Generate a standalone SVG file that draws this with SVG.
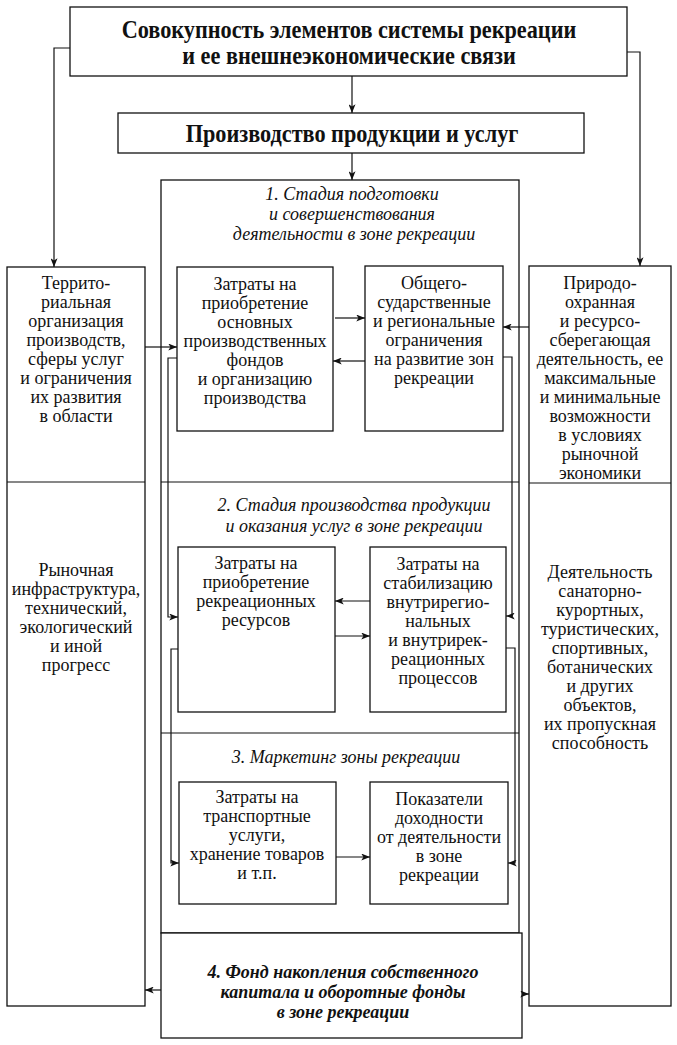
<svg xmlns="http://www.w3.org/2000/svg" width="677" height="1045" viewBox="0 0 677 1045">
<defs>
<style>
.box{fill:#fff;stroke:#111;stroke-width:1.3}
.ln{fill:none;stroke:#111;stroke-width:1.2}
.t{font-family:"Liberation Serif","Times New Roman",serif;font-size:18px;fill:#111;text-anchor:middle}
.h{font-family:"Liberation Serif","Times New Roman",serif;font-size:25px;font-weight:bold;fill:#111;text-anchor:middle}
.i{font-family:"Liberation Serif","Times New Roman",serif;font-size:18px;font-style:italic;fill:#111;text-anchor:middle}
.bi{font-family:"Liberation Serif","Times New Roman",serif;font-size:18px;font-style:italic;font-weight:bold;fill:#111;text-anchor:middle}
</style>
<marker id="ah" viewBox="0 0 10 8" refX="10" refY="4" markerWidth="9" markerHeight="7" markerUnits="userSpaceOnUse" orient="auto">
<path d="M0,0 L10,4 L0,8 L2.5,4 Z" fill="#111"/>
</marker>
</defs>
<rect width="677" height="1045" fill="#fff"/>

<g id="top">
<rect class="box" x="70" y="7" width="557" height="69"/>
<text class="h" transform="translate(349,38) scale(0.89,1)">Совокупность элементов системы рекреации</text>
<text class="h" transform="translate(349,64) scale(0.89,1)">и ее внешнеэкономические связи</text>
</g>

<g id="production">
<rect class="box" x="118" y="113" width="466" height="40"/>
<text class="h" transform="translate(352,142) scale(0.89,1)">Производство продукции и услуг</text>
</g>

<g id="stages">
<rect class="box" x="161" y="180" width="358" height="753"/>
<line class="ln" x1="161" y1="482" x2="519" y2="482"/>
<line class="ln" x1="161" y1="733" x2="519" y2="733"/>
</g>

<g id="stage1">
<text class="i" x="352" y="200">1. Стадия подготовки</text>
<text class="i" x="352" y="220">и совершенствования</text>
<text class="i" x="354" y="240">деятельности в зоне рекреации</text>
</g>

<g id="s1a">
<rect class="box" x="177" y="267" width="156" height="164"/>
<text class="t" x="255" y="290">Затраты на</text>
<text class="t" x="255" y="309">приобретение</text>
<text class="t" x="255" y="328">основных</text>
<text class="t" x="255" y="347">производственных</text>
<text class="t" x="255" y="366">фондов</text>
<text class="t" x="255" y="385">и организацию</text>
<text class="t" x="255" y="404">производства</text>
</g>

<g id="s1b">
<rect class="box" x="365" y="266" width="138" height="165"/>
<text class="t" x="434" y="289">Общего-</text>
<text class="t" x="434" y="308">сударственные</text>
<text class="t" x="434" y="327">и региональные</text>
<text class="t" x="434" y="346">ограничения</text>
<text class="t" x="434" y="365">на развитие зон</text>
<text class="t" x="434" y="384">рекреации</text>
</g>

<g id="stage2">
<text class="i" x="354" y="511">2. Стадия производства продукции</text>
<text class="i" x="354" y="532">и оказания услуг в зоне рекреации</text>
</g>

<g id="s2a">
<rect class="box" x="178" y="547" width="157" height="165"/>
<text class="t" x="256" y="569">Затраты на</text>
<text class="t" x="256" y="588">приобретение</text>
<text class="t" x="256" y="607">рекреационных</text>
<text class="t" x="256" y="626">ресурсов</text>
</g>

<g id="s2b">
<rect class="box" x="370" y="547" width="136" height="165"/>
<text class="t" x="438" y="570">Затраты на</text>
<text class="t" x="438" y="589">стабилизацию</text>
<text class="t" x="438" y="608">внутрирегио-</text>
<text class="t" x="438" y="627">нальных</text>
<text class="t" x="438" y="646">и внутрирек-</text>
<text class="t" x="438" y="665">реационных</text>
<text class="t" x="438" y="684">процессов</text>
</g>

<g id="stage3">
<text class="i" x="346" y="763">3. Маркетинг зоны рекреации</text>
</g>

<g id="s3a">
<rect class="box" x="179" y="782" width="157" height="122"/>
<text class="t" x="257" y="803">Затраты на</text>
<text class="t" x="257" y="822">транспортные</text>
<text class="t" x="257" y="841">услуги,</text>
<text class="t" x="257" y="860">хранение товаров</text>
<text class="t" x="257" y="879">и т.п.</text>
</g>

<g id="s3b">
<rect class="box" x="370" y="782" width="138" height="122"/>
<text class="t" x="439" y="805">Показатели</text>
<text class="t" x="439" y="824">доходности</text>
<text class="t" x="439" y="843">от деятельности</text>
<text class="t" x="439" y="862">в зоне</text>
<text class="t" x="439" y="881">рекреации</text>
</g>

<g id="stage4">
<rect class="box" x="161" y="933" width="361" height="105"/>
<text class="bi" x="343" y="978">4. Фонд накопления собственного</text>
<text class="bi" x="343" y="998">капитала и оборотные фонды</text>
<text class="bi" x="343" y="1018">в зоне рекреации</text>
</g>

<g id="left">
<rect class="box" x="7" y="267" width="138" height="739"/>
<line class="ln" x1="7" y1="482" x2="145" y2="482"/>
<text class="t" x="76" y="289">Террито-</text>
<text class="t" x="76" y="308">риальная</text>
<text class="t" x="76" y="327">организация</text>
<text class="t" x="76" y="346">производств,</text>
<text class="t" x="76" y="365">сферы услуг</text>
<text class="t" x="76" y="384">и ограничения</text>
<text class="t" x="76" y="403">их развития</text>
<text class="t" x="76" y="422">в области</text>
<text class="t" x="76" y="576">Рыночная</text>
<text class="t" x="76" y="595">инфраструктура,</text>
<text class="t" x="76" y="614">технический,</text>
<text class="t" x="76" y="633">экологический</text>
<text class="t" x="76" y="652">и иной</text>
<text class="t" x="76" y="671">прогресс</text>
</g>

<g id="right">
<rect class="box" x="529" y="266" width="142" height="740"/>
<line class="ln" x1="529" y1="483" x2="671" y2="483"/>
<text class="t" x="600" y="289">Природо-</text>
<text class="t" x="600" y="308">охранная</text>
<text class="t" x="600" y="327">и ресурсо-</text>
<text class="t" x="600" y="346">сберегающая</text>
<text class="t" x="600" y="365">деятельность, ее</text>
<text class="t" x="600" y="384">максимальные</text>
<text class="t" x="600" y="403">и минимальные</text>
<text class="t" x="600" y="422">возможности</text>
<text class="t" x="600" y="441">в условиях</text>
<text class="t" x="600" y="460">рыночной</text>
<text class="t" x="600" y="479">экономики</text>
<text class="t" x="600" y="578">Деятельность</text>
<text class="t" x="600" y="597">санаторно-</text>
<text class="t" x="600" y="616">курортных,</text>
<text class="t" x="600" y="635">туристических,</text>
<text class="t" x="600" y="654">спортивных,</text>
<text class="t" x="600" y="673">ботанических</text>
<text class="t" x="600" y="692">и других</text>
<text class="t" x="600" y="711">объектов,</text>
<text class="t" x="600" y="730">их пропускная</text>
<text class="t" x="600" y="749">способность</text>
</g>

<g id="connectors">
<path class="ln" d="M352,76 V113" marker-end="url(#ah)"/>
<path class="ln" d="M352,153 V180" marker-end="url(#ah)"/>
<path class="ln" d="M70,48 H54 V267" marker-end="url(#ah)"/>
<path class="ln" d="M627,52 H640 V266" marker-end="url(#ah)"/>
<path class="ln" d="M145,347 H177" marker-end="url(#ah)"/>
<path class="ln" d="M529,327 H503" marker-end="url(#ah)"/>
<path class="ln" d="M335,318 H365" marker-end="url(#ah)"/>
<path class="ln" d="M365,361 H333" marker-end="url(#ah)"/>
<path class="ln" d="M177,358 H168 V617 H178" marker-end="url(#ah)"/>
<path class="ln" d="M503,357 H512 V616 H506" marker-end="url(#ah)"/>
<path class="ln" d="M370,601 H335" marker-end="url(#ah)"/>
<path class="ln" d="M335,636 H370" marker-end="url(#ah)"/>
<path class="ln" d="M178,649 H171 V863 H179" marker-end="url(#ah)"/>
<path class="ln" d="M506,648 H515 V863 H508" marker-end="url(#ah)"/>
<path class="ln" d="M336,857 H370" marker-end="url(#ah)"/>
<path class="ln" d="M161,990 H145" marker-end="url(#ah)"/>
<path class="ln" d="M522,994 H529" marker-end="url(#ah)"/>
</g>
</svg>
